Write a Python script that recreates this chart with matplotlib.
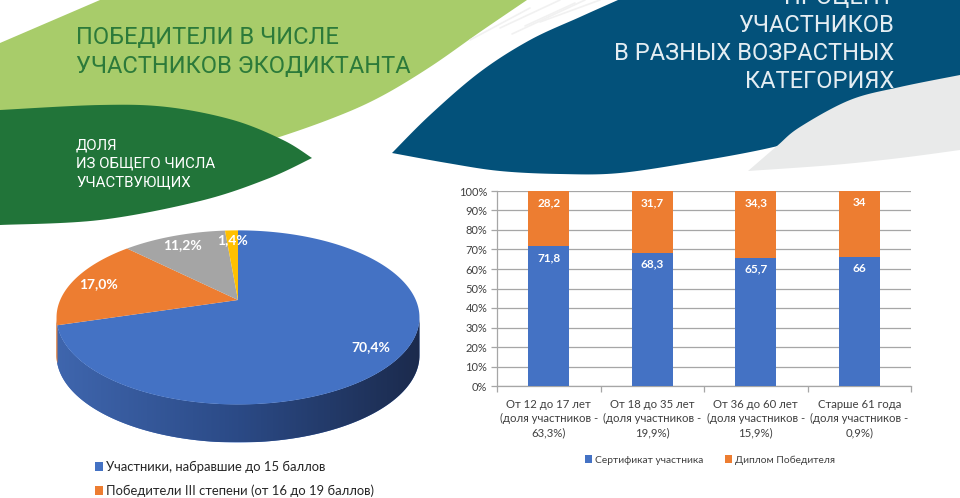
import numpy as np
import matplotlib
matplotlib.use("Agg")
import matplotlib.pyplot as plt
from matplotlib.patches import Polygon, Patch
from matplotlib.colors import LinearSegmentedColormap

plt.rcParams['font.family'] = ['Lato', 'Open Sans', 'DejaVu Sans']

# ---------------- data ----------------
pie_labels = ["Участники, набравшие до 15 баллов",
              "Победители III степени (от 16 до 19 баллов)"]
pie_values = [70.4, 17.0, 11.2, 1.4]
pie_colors = ['#4472C4', '#ED7D31', '#A5A5A5', '#FFC000']

bar_categories = ["От 12 до 17 лет\n(доля участников -\n63,3%)",
                  "От 18 до 35 лет\n(доля участников -\n19,9%)",
                  "От 36 до 60 лет\n(доля участников -\n15,9%)",
                  "Старше 61 года\n(доля участников -\n0,9%)"]
cert_values = [71.8, 68.3, 65.7, 66]
dipl_values = [28.2, 31.7, 34.3, 34]
series_names = ["Сертификат участника", "Диплом Победителя"]
y_ticks = [0, 10, 20, 30, 40, 50, 60, 70, 80, 90, 100]

title_left = ["ПОБЕДИТЕЛИ В ЧИСЛЕ", "УЧАСТНИКОВ ЭКОДИКТАНТА"]
subtitle_left = ["ДОЛЯ", "ИЗ ОБЩЕГО ЧИСЛА", "УЧАСТВУЮЩИХ"]
title_right = ["ПРОЦЕНТ", "УЧАСТНИКОВ", "В РАЗНЫХ ВОЗРАСТНЫХ", "КАТЕГОРИЯХ"]

W, H = 960, 498
fig = plt.figure(figsize=(W / 100, H / 100), dpi=100)
fig.patch.set_facecolor('white')

# ---------------- decorative background ----------------
bg = fig.add_axes([0, 0, 1, 1])
bg.set_xlim(0, W)
bg.set_ylim(H, 0)
bg.axis('off')


def smooth(pts, n=16):
    p = np.asarray(pts, float)
    p = np.vstack([p[0], p, p[-1]])
    out = []
    for i in range(1, len(p) - 2):
        p0, p1, p2, p3 = p[i - 1], p[i], p[i + 1], p[i + 2]
        for t in np.linspace(0, 1, n, endpoint=False):
            t2, t3 = t * t, t * t * t
            out.append(0.5 * ((2 * p1) + (-p0 + p2) * t + (2 * p0 - 5 * p1 + 4 * p2 - p3) * t2
                              + (-p0 + 3 * p1 - 3 * p2 + p3) * t3))
    out.append(p[-2])
    return np.array(out)


light_green = np.vstack([
    [[0, 43], [100, 0], [527, 0]],
    smooth([[527, 0], [480, 32], [430, 67], [380, 97], [333, 118], [270, 140],
            [200, 160], [100, 180], [0, 192]]),
])
bg.add_patch(Polygon(light_green, closed=True, fc='#A8CC6A', ec='none'))

dark_green = np.vstack([
    smooth([[0, 110], [100, 105], [167, 107], [233, 120], [283, 140], [312, 158]]),
    smooth([[312, 158], [267, 179], [200, 201], [100, 220], [0, 225]]),
])
bg.add_patch(Polygon(dark_green, closed=True, fc='#217439', ec='none'))

# faint brush streaks in the white gap
for (x0, y0, x1, y1) in [(500, 28, 560, 0), (512, 34, 585, 0), (525, 26, 575, 3),
                         (540, 22, 600, 0), (470, 40, 530, 8)]:
    bg.plot([x0, x1], [y0, y1], color='#F1F1F1', lw=1.2, solid_capstyle='round')

blue_shape = np.vstack([
    smooth([[392, 153], [430, 115], [480, 72], [530, 40], [580, 17], [618, 0]]),
    [[960, 0]],
    smooth([[960, 100], [900, 112], [850, 125], [800, 140], [760, 150], [700, 161],
            [620, 173], [560, 174], [500, 171], [447, 163], [392, 153]]),
])
bg.add_patch(Polygon(blue_shape, closed=True, fc='#03517A', ec='none'))

gray_shape = np.vstack([
    smooth([[748, 171], [777, 146], [800, 127], [850, 100], [900, 87], [960, 75]]),
    smooth([[960, 150], [900, 158], [833, 165], [748, 171]]),
])
bg.add_patch(Polygon(gray_shape, closed=True, fc='#E9EAEA', ec='none'))

title_font = dict(family=['Roboto', 'Liberation Sans', 'DejaVu Sans'], fontweight='normal')
for i, line in enumerate(title_left):
    bg.text(76, 44 + 28.5 * i, line, color='#2C7A3A', fontsize=17, ha='left',
            va='baseline', **title_font)
for i, line in enumerate(subtitle_left):
    bg.text(76, 149 + 18.5 * i, line, color='white', fontsize=10.8, ha='left',
            va='baseline', **title_font)
for i, line in enumerate(title_right):
    bg.text(894, 4 + 28 * i, line, color='#E4EDF2', fontsize=17, ha='right',
            va='baseline', **title_font)

# ---------------- 3D pie ----------------
unit = 177.8               # pixels per data unit
apex_x, apex_y = 238, 300  # pixel position of the pie apex
xl = (-1.3, 1.3)
yl = (-1.0, 0.5)
axp = fig.add_axes([(apex_x + xl[0] * unit) / W, (H - (apex_y - yl[0] * unit)) / H,
                    (xl[1] - xl[0]) * unit / W, (yl[1] - yl[0]) * unit / H])
axp.axis('off')

k, s, depth = 0.2, 0.47, 0.214


def proj(r, t):
    u, v = r * np.cos(t), r * np.sin(t)
    return u / (1 + k * v), s * v / (1 + k * v)


cum = np.concatenate([[0], np.cumsum(pie_values)]) / 100 * 2 * np.pi
t_start = np.pi / 2 - cum[:-1]
t_end = np.pi / 2 - cum[1:]
alpha = np.arcsin(k)
vis_lo, vis_hi = -np.pi + alpha, -alpha

side_cmaps = {
    0: LinearSegmentedColormap.from_list('b', ['#3F66AE', '#2B4A86', '#1B2A4C']),
    1: LinearSegmentedColormap.from_list('o', ['#C86A2A', '#B05A22', '#8A4418']),
}
for i in range(len(pie_values)):
    for shift in (0, 2 * np.pi, -2 * np.pi):
        lo = max(t_end[i] + shift, vis_lo)
        hi = min(t_start[i] + shift, vis_hi)
        if hi <= lo:
            continue
        ts = np.linspace(lo, hi, 120)
        X, Y = proj(1, ts)
        poly = np.vstack([np.column_stack([X, Y]), np.column_stack([X[::-1], Y[::-1] - depth])])
        patch = Polygon(poly, closed=True, fc=pie_colors[i], ec='none')
        axp.add_patch(patch)
        cmap = side_cmaps.get(i)
        if cmap is not None:
            grad = np.linspace(0, 1, 256).reshape(1, -1)
            im = axp.imshow(grad, cmap=cmap, extent=(-1.03, 1.03, Y.min() - depth, Y.max()),
                            aspect='auto', interpolation='bilinear', zorder=1)
            im.set_clip_path(patch)

for i in range(len(pie_values)):
    ts = np.linspace(t_start[i], t_end[i], 200)
    X, Y = proj(1, ts)
    poly = np.vstack([[0, 0], np.column_stack([X, Y])])
    axp.add_patch(Polygon(poly, closed=True, fc=pie_colors[i], ec='none', zorder=2))
    tm = (t_start[i] + t_end[i]) / 2
    lx, ly = proj(0.84, tm)
    axp.text(lx, ly, f"{pie_values[i]:.1f}%".replace('.', ','), color='white',
             fontsize=10, fontweight='bold', ha='center', va='center', zorder=3)

axp.set_xlim(*xl)
axp.set_ylim(*yl)
axp.set_aspect('auto')

fig.legend([Patch(fc=pie_colors[0]), Patch(fc=pie_colors[1])], pie_labels,
           loc='upper left', bbox_to_anchor=(95 / W, 1 - 461 / H), frameon=False,
           fontsize=9.4, handlelength=0.6, handleheight=0.6, handletextpad=0.25,
           labelspacing=0.87, borderaxespad=0, borderpad=0, labelcolor='#262626')

# ---------------- stacked bar chart ----------------
axb = fig.add_axes([497 / W, (H - 386) / H, 414 / W, 195 / H])
x = np.arange(len(bar_categories))
bw = 0.4
axb.bar(x, cert_values, bw, color='#4472C4', label=series_names[0], zorder=3)
axb.bar(x, dipl_values, bw, bottom=cert_values, color='#ED7D31',
        label=series_names[1], zorder=3)

for xi, c, d in zip(x, cert_values, dipl_values):
    for top, val in ((c, c), (c + d, d)):
        axb.annotate(f"{val:g}".replace('.', ','), xy=(xi, top), xytext=(0, -8.2),
                     textcoords='offset points', ha='center', va='center',
                     color='white', fontsize=8.5, fontweight='bold', zorder=4)

axb.set_xlim(-0.5, len(bar_categories) - 0.5)
axb.set_ylim(0, 100)
axb.set_yticks(y_ticks)
axb.set_yticklabels([f"{v}%" for v in y_ticks])
axb.yaxis.grid(True, color='#A6A6A6', lw=0.9, zorder=0)
axb.set_axisbelow(True)
axb.set_xticks(np.arange(-0.5, len(bar_categories), 1.0))
axb.set_xticklabels([])
axb.set_xticks(x, minor=True)
axb.set_xticklabels(bar_categories, minor=True, fontsize=8.2, color='#404040',
                    linespacing=1.35)
axb.tick_params(axis='x', which='minor', length=0, pad=9)
axb.tick_params(axis='x', which='major', length=4, color='#A6A6A6', width=0.9)
axb.tick_params(axis='y', length=4, color='#A6A6A6', width=0.9, pad=3,
                labelsize=8, labelcolor='#404040')
for sp in ('top', 'right'):
    axb.spines[sp].set_visible(False)
for sp in ('left', 'bottom'):
    axb.spines[sp].set_color('#A6A6A6')
    axb.spines[sp].set_linewidth(0.9)

axb.legend(loc='center', bbox_to_anchor=(0.514, -0.379), ncol=2, frameon=False,
           fontsize=7.4, handlelength=0.7, handleheight=0.7, handletextpad=0.3,
           columnspacing=2.1, labelcolor='#404040', borderaxespad=0)

fig.savefig('out.png', dpi=100)
